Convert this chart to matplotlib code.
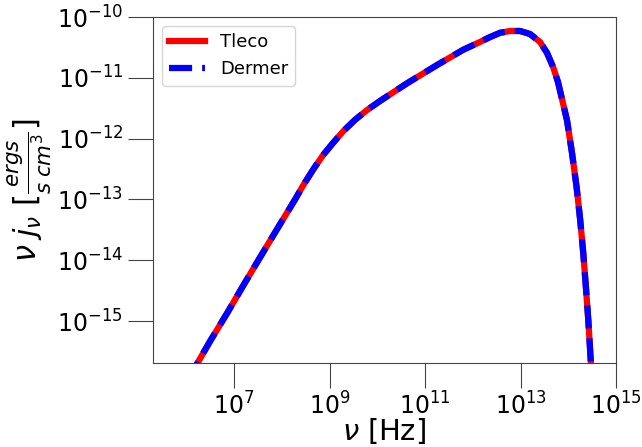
import matplotlib
matplotlib.use("Agg")
import matplotlib.pyplot as plt
import numpy as np

# Data, stored as log10 values
# log10 of frequency nu [Hz]
log_nu = [6.0, 6.225, 6.497, 6.853, 7.188, 7.545, 7.921, 8.277, 8.445, 8.654,
          8.864, 9.073, 9.283, 9.534, 9.785, 10.058, 10.330, 10.623, 10.832,
          11.251, 11.796, 12.152, 12.361, 12.571, 12.780, 12.990, 13.199,
          13.408, 13.555, 13.681, 13.785, 13.974, 14.079, 14.175,
          14.250, 14.315, 14.370, 14.420, 14.475, 14.55]
# log10 of nu*j_nu [erg s^-1 cm^-3]
log_tleco = [-16.0, -15.70, -15.33, -14.87, -14.42, -13.95, -13.46, -13.00,
             -12.77, -12.51, -12.27, -12.07, -11.88, -11.69, -11.53, -11.38,
             -11.24, -11.09, -10.99, -10.79, -10.54, -10.41, -10.33, -10.26,
             -10.23, -10.23, -10.28, -10.41, -10.59, -10.82, -11.07,
             -11.70, -12.24, -12.80, -13.34, -13.89, -14.45, -14.99, -15.70,
             -16.60]
log_dermer = list(log_tleco)

nu = 10.0 ** np.array(log_nu)
tleco = 10.0 ** np.array(log_tleco)
dermer = 10.0 ** np.array(log_dermer)

xticks = [1e7, 1e9, 1e11, 1e13, 1e15]
yticks = [1e-15, 1e-14, 1e-13, 1e-12, 1e-11, 1e-10]

fig = plt.figure(figsize=(6.42, 4.47), dpi=100)
ax = fig.add_axes([153/642, 1-363/447, (616-153)/642, (363-17)/447])

ax.plot(nu, tleco, color='red', lw=4.5, label='Tleco')
ax.plot(nu, dermer, color='blue', lw=4.5, ls='--', label='Dermer')

ax.set_xscale('log')
ax.set_yscale('log')
ax.set_xlim(10**5.3, 1e15)
ax.set_ylim(10**-15.69, 1e-10)
ax.set_xticks(xticks)
ax.set_yticks(yticks)
ax.minorticks_off()
ax.tick_params(axis='both', which='major', direction='out', length=18,
               width=0.8, labelsize=17, color='#444444')
for s in ax.spines.values():
    s.set_color('#444444')

ax.set_xlabel(r'$\nu$ [Hz]', fontsize=21, labelpad=-3)
ax.set_ylabel(r'$\nu\; j_{\nu}\ [\frac{ergs}{s\; cm^3}]$', fontsize=22, labelpad=2)

ax.legend(loc='upper left', fontsize=13, handlelength=2.0)

fig.savefig('out.png', dpi=100)
